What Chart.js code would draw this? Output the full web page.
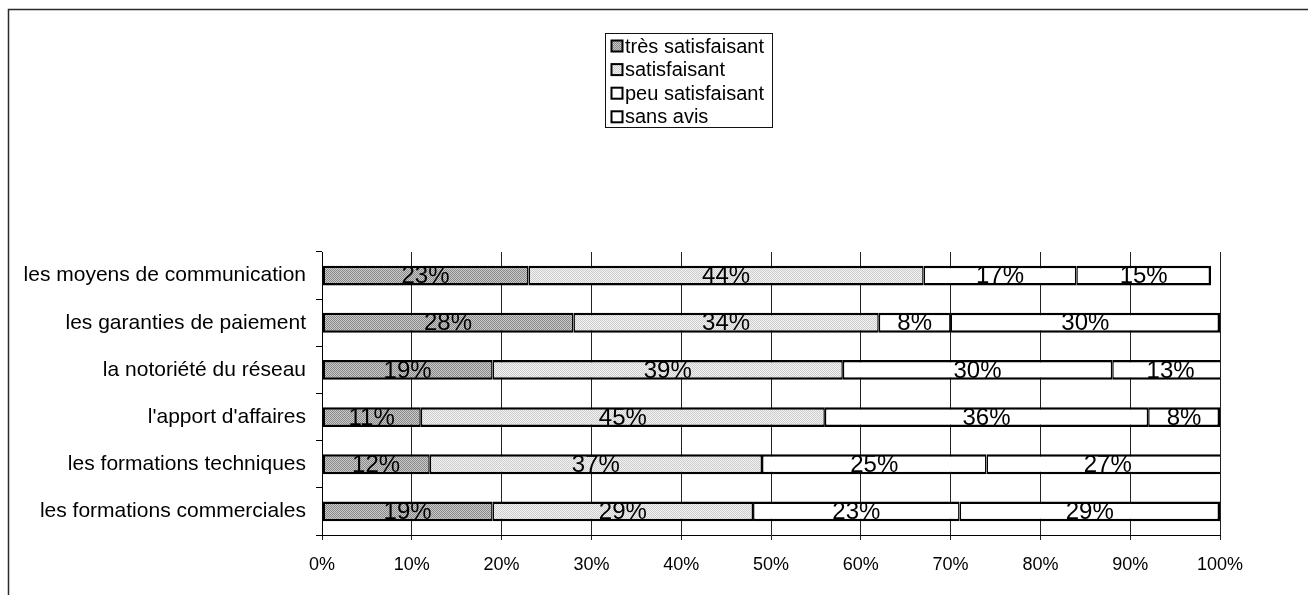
<!DOCTYPE html>
<html lang="fr">
<head>
<meta charset="utf-8">
<title>Satisfaction</title>
<script src="https://cdn.jsdelivr.net/npm/chart.js@4/dist/chart.umd.min.js"></script>
<style>
  html, body { margin: 0; padding: 0; background: #fff; }
  #wrap { width: 1308px; height: 595px; position: relative; }
</style>
</head>
<body>
<div id="wrap"><canvas id="c" width="1308" height="595"></canvas></div>
<script>
// Survey items, top to bottom
const categories = [
  'les moyens de communication',
  'les garanties de paiement',
  'la notoriété du réseau',
  "l'apport d'affaires",
  'les formations techniques',
  'les formations commerciales'
];
const seriesNames = ['très satisfaisant', 'satisfaisant', 'peu satisfaisant', 'sans avis'];

// Shares in percent, one array per answer
const tresSatisfaisant = [23, 28, 19, 11, 12, 19];
const satisfaisant     = [44, 34, 39, 45, 37, 29];
const peuSatisfaisant  = [17,  8, 30, 36, 25, 23];
const sansAvis         = [15, 30, 13,  8, 27, 29];

// Axis ticks (percent)
const xTickValues = [0, 10, 20, 30, 40, 50, 60, 70, 80, 90, 100];

const FONT = "'Liberation Sans', Arial, Helvetica, sans-serif";

// Dithered halftone fills
function makePattern(dark, light) {
  const p = document.createElement('canvas');
  p.width = 4; p.height = 4;
  const g = p.getContext('2d');
  for (let y = 0; y < 4; y++) {
    for (let x = 0; x < 4; x++) {
      g.fillStyle = ((x + y) % 2 === 0) ? dark : light;
      g.fillRect(x, y, 1, 1);
    }
  }
  return g.createPattern(p, 'repeat');
}
const ctx0 = document.getElementById('c').getContext('2d');
const fills = [
  makePattern('#888888', '#cacaca'),
  makePattern('#cdcdcd', '#f2f2f2'),
  '#ffffff',
  '#ffffff'
];
const seriesData = [tresSatisfaisant, satisfaisant, peuSatisfaisant, sansAvis];

const datasets = seriesNames.map((name, i) => ({
  label: name,
  data: seriesData[i],
  backgroundColor: fills[i],
  borderColor: '#000',
  borderSkipped: false,
  borderWidth: {
    top: 2.5,
    bottom: 2.5,
    left: i === 0 ? 2.5 : 1.5,
    right: i === seriesNames.length - 1 ? 2.5 : 1.5
  }
}));

// Outer frame lines (top and left)
const framePlugin = {
  id: 'frame',
  beforeDraw(chart) {
    const c = chart.ctx;
    c.save();
    c.fillStyle = '#fff';
    c.fillRect(0, 0, chart.width, chart.height);
    c.strokeStyle = '#2a2a2a';
    c.lineWidth = 1.5;
    c.beginPath();
    c.moveTo(8.5, chart.height);
    c.lineTo(8.5, 9.5);
    c.lineTo(chart.width, 9.5);
    c.stroke();
    c.restore();
  }
};

// Boxed legend with one entry per row
const boxLegendPlugin = {
  id: 'boxLegend',
  afterDraw(chart) {
    const c = chart.ctx;
    const left = 605, top = 33, w = 167, h = 94;
    c.save();
    c.fillStyle = '#fff';
    c.fillRect(left, top, w, h);
    c.strokeStyle = '#111';
    c.lineWidth = 1;
    c.strokeRect(left + 0.5, top + 0.5, w, h);
    c.font = '20px ' + FONT;
    c.textBaseline = 'middle';
    c.textAlign = 'left';
    chart.data.datasets.forEach((ds, i) => {
      const cy = top + 13 + i * 23.6;
      const sx = 611.5, s = 11;
      c.fillStyle = ds.backgroundColor;
      c.fillRect(sx, cy - s / 2, s, s);
      c.strokeStyle = '#000';
      c.lineWidth = 2;
      c.strokeRect(sx, cy - s / 2, s, s);
      c.fillStyle = '#000';
      c.fillText(ds.label, 625, cy + 1);
    });
    c.restore();
  }
};

// Value labels centred in each segment
const valueLabelPlugin = {
  id: 'valueLabels',
  afterDatasetsDraw(chart) {
    const c = chart.ctx;
    c.save();
    c.font = '24px ' + FONT;
    c.fillStyle = '#000';
    c.textAlign = 'center';
    c.textBaseline = 'middle';
    chart.data.datasets.forEach((ds, i) => {
      const meta = chart.getDatasetMeta(i);
      meta.data.forEach((bar, j) => {
        const cx = (bar.x + bar.base) / 2;
        c.fillText(ds.data[j] + '%', cx, bar.y + 1);
      });
    });
    c.restore();
  }
};

new Chart(ctx0, {
  type: 'bar',
  data: { labels: categories, datasets },
  options: {
    indexAxis: 'y',
    responsive: false,
    animation: false,
    devicePixelRatio: 1,
    layout: { padding: { top: 252, right: 88, bottom: 0, left: 0 } },
    datasets: { bar: { categoryPercentage: 1, barPercentage: 0.42 } },
    plugins: {
      legend: { display: false },
      tooltip: { enabled: false }
    },
    scales: {
      x: {
        stacked: true,
        min: 0,
        max: 100,
        afterBuildTicks(scale) { scale.ticks = xTickValues.map(v => ({ value: v })); },
        afterFit(scale) { scale.height = 60; },
        border: { display: true, color: '#000', width: 1 },
        grid: { color: '#222', lineWidth: 1, tickLength: 5, drawTicks: true },
        ticks: {
          color: '#000',
          padding: 14,
          font: { family: FONT, size: 18 },
          callback: v => v + '%'
        }
      },
      y: {
        stacked: true,
        afterFit(scale) { scale.width = 322; },
        border: { display: true, color: '#000', width: 1 },
        grid: { offset: true, drawOnChartArea: false, color: '#000', tickLength: 6 },
        ticks: {
          color: '#000',
          padding: 10,
          font: { family: FONT, size: 21 }
        }
      }
    }
  },
  plugins: [framePlugin, valueLabelPlugin, boxLegendPlugin]
});
</script>
</body>
</html>
